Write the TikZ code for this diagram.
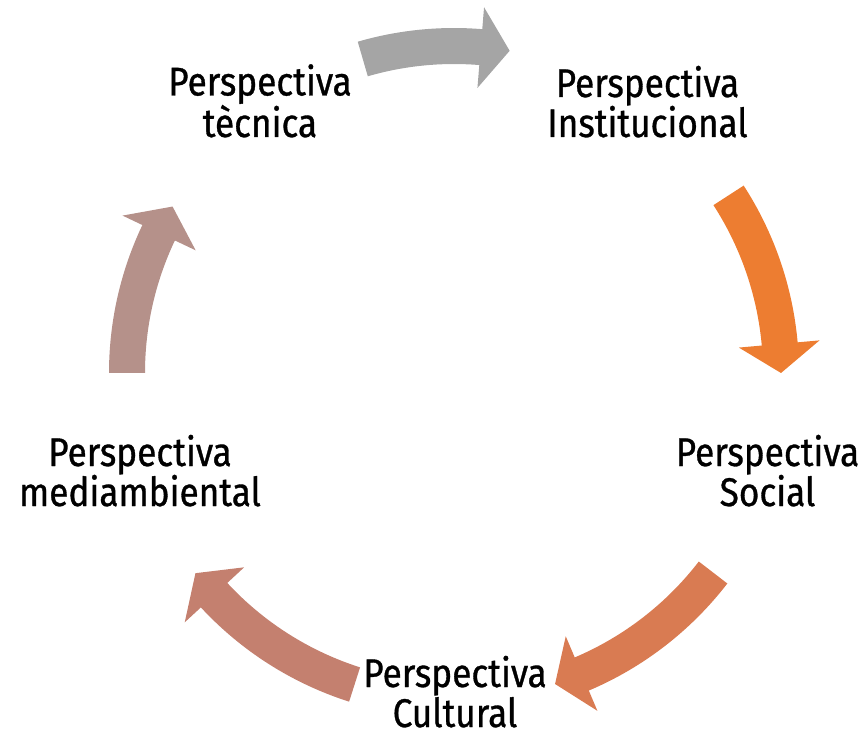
\documentclass[tikz,border=0pt]{standalone}
\usepackage{fontspec}
\setmainfont[FakeStretch=0.88, FakeBold=0.8]{Fira Sans}
\definecolor{arrGray}{HTML}{A5A5A5}
\definecolor{arrOrange}{HTML}{ED7D31}
\definecolor{arrRust}{HTML}{D97B52}
\definecolor{arrClay}{HTML}{C4806F}
\definecolor{arrMauve}{HTML}{B5918A}
\tikzset{
  label/.style={align=center, anchor=base, inner sep=0pt, font=\fontsize{40}{40}\selectfont},
}
\newcommand{\cyclearrow}[4]{%
  \fill[#1] (#2:345) arc[start angle=#2, end angle=#3, radius=345] -- (#3:367) -- (#4:327) -- (#3:286) -- (#3:309) arc[start angle=#3, end angle=#2, radius=309] -- cycle;}
\begin{document}
\begin{tikzpicture}[x=1pt, y=1pt]
\useasboundingbox (0,0) rectangle (865,740);
\begin{scope}[shift={(454,367)}]
  \cyclearrow{arrGray}{106.2}{85.3}{80.2}
  \cyclearrow{arrOrange}{32.9}{5.1}{0}
  \cyclearrow{arrRust}{-37.6}{-67.0}{-72.0}
  \cyclearrow{arrClay}{252.3}{222.8}{217.75}
  \cyclearrow{arrMauve}{180}{154.6}{149.4}
\end{scope}
\node[label] (tec) at (260,603) {Perspectiva\\tècnica};
\node[label] (ins) at (647.5,603) {Perspectiva\\Institucional};
\node[label] (soc) at (767.5,234) {Perspectiva\\Social};
\node[label] (cul) at (455,13) {Perspectiva\\Cultural};
\node[label] (med) at (140,234) {Perspectiva\\mediambiental};
\end{tikzpicture}
\end{document}
